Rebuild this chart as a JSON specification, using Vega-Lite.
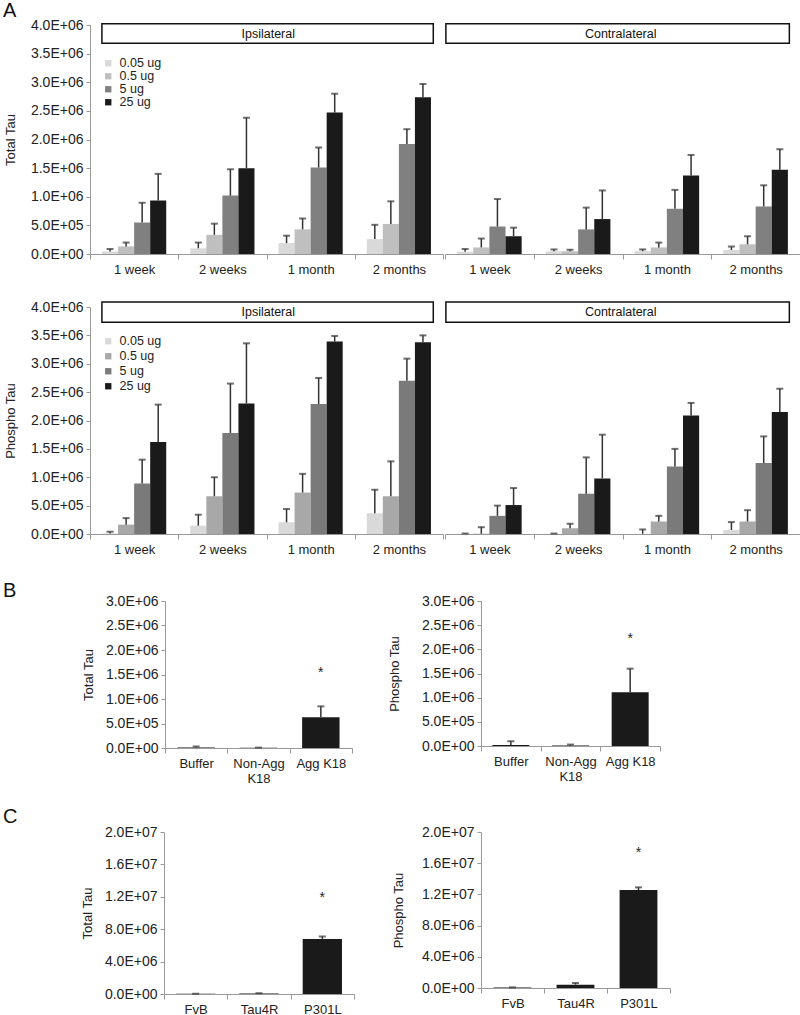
{
  "$schema": "https://vega.github.io/schema/vega-lite/v6.json",
  "background": "white",
  "padding": {"left": 3, "top": 1, "right": 0, "bottom": 0},
  "config": {
    "font": "Liberation Sans",
    "view": {"stroke": null},
    "axis": {"grid": false, "domainColor": "#999", "tickColor": "#999", "labelColor": "#222", "labelFontSize": 13, "titleFontSize": 13, "titleFontWeight": "normal", "titleColor": "#222", "tickSize": 4, "labelPadding": 3},
    "axisY": {"labelFontSize": 14, "labelOverlap": false},
    "title": {"fontSize": 20, "fontWeight": "normal", "anchor": "start", "offset": 0, "color": "#111"},
    "legend": {"labelColor": "#222"}
  },
  "datasets": {
    "totalTau": [
      {"side": "Ipsilateral", "time": "1 week", "dose": "0.05 ug", "mean": 45000, "upper": 87000},
      {"side": "Ipsilateral", "time": "1 week", "dose": "0.5 ug", "mean": 133000, "upper": 200000},
      {"side": "Ipsilateral", "time": "1 week", "dose": "5 ug", "mean": 550000, "upper": 895000},
      {"side": "Ipsilateral", "time": "1 week", "dose": "25 ug", "mean": 935000, "upper": 1400000},
      {"side": "Ipsilateral", "time": "2 weeks", "dose": "0.05 ug", "mean": 100000, "upper": 200000},
      {"side": "Ipsilateral", "time": "2 weeks", "dose": "0.5 ug", "mean": 335000, "upper": 530000},
      {"side": "Ipsilateral", "time": "2 weeks", "dose": "5 ug", "mean": 1020000, "upper": 1480000},
      {"side": "Ipsilateral", "time": "2 weeks", "dose": "25 ug", "mean": 1500000, "upper": 2380000},
      {"side": "Ipsilateral", "time": "1 month", "dose": "0.05 ug", "mean": 190000, "upper": 320000},
      {"side": "Ipsilateral", "time": "1 month", "dose": "0.5 ug", "mean": 430000, "upper": 620000},
      {"side": "Ipsilateral", "time": "1 month", "dose": "5 ug", "mean": 1510000, "upper": 1860000},
      {"side": "Ipsilateral", "time": "1 month", "dose": "25 ug", "mean": 2470000, "upper": 2800000},
      {"side": "Ipsilateral", "time": "2 months", "dose": "0.05 ug", "mean": 260000, "upper": 510000},
      {"side": "Ipsilateral", "time": "2 months", "dose": "0.5 ug", "mean": 525000, "upper": 920000},
      {"side": "Ipsilateral", "time": "2 months", "dose": "5 ug", "mean": 1920000, "upper": 2180000},
      {"side": "Ipsilateral", "time": "2 months", "dose": "25 ug", "mean": 2740000, "upper": 2970000},
      {"side": "Contralateral", "time": "1 week", "dose": "0.05 ug", "mean": 40000, "upper": 87000},
      {"side": "Contralateral", "time": "1 week", "dose": "0.5 ug", "mean": 115000, "upper": 270000},
      {"side": "Contralateral", "time": "1 week", "dose": "5 ug", "mean": 480000, "upper": 960000},
      {"side": "Contralateral", "time": "1 week", "dose": "25 ug", "mean": 310000, "upper": 460000},
      {"side": "Contralateral", "time": "2 weeks", "dose": "0.05 ug", "mean": 46000, "upper": 80000},
      {"side": "Contralateral", "time": "2 weeks", "dose": "0.5 ug", "mean": 46000, "upper": 75000},
      {"side": "Contralateral", "time": "2 weeks", "dose": "5 ug", "mean": 430000, "upper": 810000},
      {"side": "Contralateral", "time": "2 weeks", "dose": "25 ug", "mean": 610000, "upper": 1110000},
      {"side": "Contralateral", "time": "1 month", "dose": "0.05 ug", "mean": 50000, "upper": 80000},
      {"side": "Contralateral", "time": "1 month", "dose": "0.5 ug", "mean": 115000, "upper": 200000},
      {"side": "Contralateral", "time": "1 month", "dose": "5 ug", "mean": 790000, "upper": 1120000},
      {"side": "Contralateral", "time": "1 month", "dose": "25 ug", "mean": 1370000, "upper": 1730000},
      {"side": "Contralateral", "time": "2 months", "dose": "0.05 ug", "mean": 70000, "upper": 130000},
      {"side": "Contralateral", "time": "2 months", "dose": "0.5 ug", "mean": 170000, "upper": 310000},
      {"side": "Contralateral", "time": "2 months", "dose": "5 ug", "mean": 830000, "upper": 1200000},
      {"side": "Contralateral", "time": "2 months", "dose": "25 ug", "mean": 1470000, "upper": 1830000}
    ],
    "phosphoTau": [
      {"side": "Ipsilateral", "time": "1 week", "dose": "0.05 ug", "mean": 10000, "upper": 40000},
      {"side": "Ipsilateral", "time": "1 week", "dose": "0.5 ug", "mean": 165000, "upper": 280000},
      {"side": "Ipsilateral", "time": "1 week", "dose": "5 ug", "mean": 890000, "upper": 1310000},
      {"side": "Ipsilateral", "time": "1 week", "dose": "25 ug", "mean": 1620000, "upper": 2280000},
      {"side": "Ipsilateral", "time": "2 weeks", "dose": "0.05 ug", "mean": 147000, "upper": 340000},
      {"side": "Ipsilateral", "time": "2 weeks", "dose": "0.5 ug", "mean": 665000, "upper": 1000000},
      {"side": "Ipsilateral", "time": "2 weeks", "dose": "5 ug", "mean": 1780000, "upper": 2650000},
      {"side": "Ipsilateral", "time": "2 weeks", "dose": "25 ug", "mean": 2300000, "upper": 3360000},
      {"side": "Ipsilateral", "time": "1 month", "dose": "0.05 ug", "mean": 206000, "upper": 440000},
      {"side": "Ipsilateral", "time": "1 month", "dose": "0.5 ug", "mean": 730000, "upper": 1060000},
      {"side": "Ipsilateral", "time": "1 month", "dose": "5 ug", "mean": 2290000, "upper": 2750000},
      {"side": "Ipsilateral", "time": "1 month", "dose": "25 ug", "mean": 3390000, "upper": 3490000},
      {"side": "Ipsilateral", "time": "2 months", "dose": "0.05 ug", "mean": 365000, "upper": 780000},
      {"side": "Ipsilateral", "time": "2 months", "dose": "0.5 ug", "mean": 665000, "upper": 1280000},
      {"side": "Ipsilateral", "time": "2 months", "dose": "5 ug", "mean": 2700000, "upper": 3090000},
      {"side": "Ipsilateral", "time": "2 months", "dose": "25 ug", "mean": 3380000, "upper": 3500000},
      {"side": "Contralateral", "time": "1 week", "dose": "0.05 ug", "mean": 5000, "upper": 8000},
      {"side": "Contralateral", "time": "1 week", "dose": "0.5 ug", "mean": 5000, "upper": 120000},
      {"side": "Contralateral", "time": "1 week", "dose": "5 ug", "mean": 320000, "upper": 500000},
      {"side": "Contralateral", "time": "1 week", "dose": "25 ug", "mean": 510000, "upper": 810000},
      {"side": "Contralateral", "time": "2 weeks", "dose": "0.05 ug", "mean": 6000, "upper": 8000},
      {"side": "Contralateral", "time": "2 weeks", "dose": "0.5 ug", "mean": 100000, "upper": 180000},
      {"side": "Contralateral", "time": "2 weeks", "dose": "5 ug", "mean": 710000, "upper": 1350000},
      {"side": "Contralateral", "time": "2 weeks", "dose": "25 ug", "mean": 980000, "upper": 1750000},
      {"side": "Contralateral", "time": "1 month", "dose": "0.05 ug", "mean": 3000, "upper": 80000},
      {"side": "Contralateral", "time": "1 month", "dose": "0.5 ug", "mean": 220000, "upper": 320000},
      {"side": "Contralateral", "time": "1 month", "dose": "5 ug", "mean": 1190000, "upper": 1500000},
      {"side": "Contralateral", "time": "1 month", "dose": "25 ug", "mean": 2090000, "upper": 2310000},
      {"side": "Contralateral", "time": "2 months", "dose": "0.05 ug", "mean": 70000, "upper": 210000},
      {"side": "Contralateral", "time": "2 months", "dose": "0.5 ug", "mean": 220000, "upper": 420000},
      {"side": "Contralateral", "time": "2 months", "dose": "5 ug", "mean": 1250000, "upper": 1720000},
      {"side": "Contralateral", "time": "2 months", "dose": "25 ug", "mean": 2150000, "upper": 2560000}
    ],
    "k18": [
      {"measure": "Total Tau", "group": "Buffer", "mean": 10000, "upper": 30000},
      {"measure": "Total Tau", "group": "Non-Agg K18", "mean": 5000, "upper": 8000},
      {"measure": "Total Tau", "group": "Agg K18", "mean": 630000, "upper": 850000, "star": 1540000},
      {"measure": "Phospho Tau", "group": "Buffer", "mean": 20000, "upper": 100000},
      {"measure": "Phospho Tau", "group": "Non-Agg K18", "mean": 8000, "upper": 30000},
      {"measure": "Phospho Tau", "group": "Agg K18", "mean": 1110000, "upper": 1600000, "star": 2220000}
    ],
    "mice": [
      {"measure": "Total Tau", "group": "FvB", "mean": 20000, "upper": 40000},
      {"measure": "Total Tau", "group": "Tau4R", "mean": 50000, "upper": 100000},
      {"measure": "Total Tau", "group": "P301L", "mean": 6800000, "upper": 7100000, "star": 11800000},
      {"measure": "Phospho Tau", "group": "FvB", "mean": 50000, "upper": 80000},
      {"measure": "Phospho Tau", "group": "Tau4R", "mean": 430000, "upper": 640000},
      {"measure": "Phospho Tau", "group": "P301L", "mean": 12550000, "upper": 12900000, "star": 17300000}
    ]
  },
  "spacing": 25,
  "vconcat": [
    {
      "spacing": 24,
      "vconcat": [
        {
          "title": {"text": "A", "offset": -3},
          "spacing": 0,
          "resolve": {"scale": {"x": "independent", "y": "independent", "color": "independent", "xOffset": "independent"}, "legend": {"color": "independent"}},
          "hconcat": [
            {"width": 1, "height": 10, "data": {"values": []}, "mark": "point", "encoding": {}},
            {
              "width": 353, "height": 229,
              "layer": [
                {
                  "data": {"name": "totalTau"},
                  "transform": [{"filter": "datum.side == 'Ipsilateral'"}],
                  "mark": {"type": "bar"},
                  "encoding": {
                    "x": {"field": "time", "type": "nominal", "scale": {"domain": ["1 week", "2 weeks", "1 month", "2 months"], "paddingInner": 0, "paddingOuter": 0}, "axis": {"title": null, "labelAngle": 0, "tickBand": "extent", "tickSize": 5, "labelPadding": 4}},
                    "xOffset": {"field": "dose", "type": "nominal", "scale": {"domain": ["0.05 ug", "0.5 ug", "5 ug", "25 ug"], "paddingInner": 0, "paddingOuter": 0.75}},
                    "y": {"field": "mean", "type": "quantitative", "scale": {"domain": [0, 4000000]}, "axis": {"title": "Total Tau", "values": [0, 500000, 1000000, 1500000, 2000000, 2500000, 3000000, 3500000, 4000000], "labelExpr": "replace(format(datum.value, '.1e'), 'e+', 'E+0')", "titlePadding": 12.5}},
                    "color": {"field": "dose", "type": "nominal", "scale": {"domain": ["0.05 ug", "0.5 ug", "5 ug", "25 ug"], "range": ["#d9d9d9", "#bfbfbf", "#808080", "#1a1a1a"]}, "legend": {"title": null, "orient": "none", "legendX": 12, "legendY": 32, "symbolType": "square", "symbolSize": 40, "symbolStrokeWidth": 0, "labelFontSize": 12.5, "rowPadding": 0, "padding": 0, "labelOffset": 5}}
                  }
                },
                {
                  "data": {"name": "totalTau"},
                  "transform": [{"filter": "datum.side == 'Ipsilateral'"}],
                  "mark": {"type": "rule", "color": "#333", "strokeWidth": 1.5},
                  "encoding": {
                    "x": {"field": "time", "type": "nominal"},
                    "xOffset": {"field": "dose", "type": "nominal"},
                    "y": {"field": "mean", "type": "quantitative", "axis": {"title": "Total Tau", "values": [0, 500000, 1000000, 1500000, 2000000, 2500000, 3000000, 3500000, 4000000], "labelExpr": "replace(format(datum.value, '.1e'), 'e+', 'E+0')", "titlePadding": 12.5}},
                    "y2": {"field": "upper"}
                  }
                },
                {
                  "data": {"name": "totalTau"},
                  "transform": [{"filter": "datum.side == 'Ipsilateral'"}],
                  "mark": {"type": "tick", "color": "#333", "thickness": 2, "size": 7},
                  "encoding": {
                    "x": {"field": "time", "type": "nominal"},
                    "xOffset": {"field": "dose", "type": "nominal"},
                    "y": {"field": "upper", "type": "quantitative", "axis": {"title": "Total Tau", "values": [0, 500000, 1000000, 1500000, 2000000, 2500000, 3000000, 3500000, 4000000], "labelExpr": "replace(format(datum.value, '.1e'), 'e+', 'E+0')", "titlePadding": 12.5}}
                  }
                },
                {
                  "data": {"values": [{"side": "Ipsilateral"}]},
                  "mark": {"type": "rect", "fill": "white", "stroke": "#111", "strokeWidth": 1.5},
                  "encoding": {
                    "x": {"datum": "1 week", "bandPosition": 0.135},
                    "x2": {"datum": "2 months", "bandPosition": 0.89},
                    "y": {"datum": 3680000, "type": "quantitative", "axis": {"title": "Total Tau", "values": [0, 500000, 1000000, 1500000, 2000000, 2500000, 3000000, 3500000, 4000000], "labelExpr": "replace(format(datum.value, '.1e'), 'e+', 'E+0')", "titlePadding": 12.5}},
                    "y2": {"datum": 4020000}
                  }
                },
                {
                  "data": {"values": [{"side": "Ipsilateral"}]},
                  "mark": {"type": "text", "fontSize": 12.5, "color": "#111"},
                  "encoding": {
                    "x": {"datum": "1 month", "bandPosition": 0.02},
                    "y": {"datum": 3850000, "type": "quantitative", "axis": {"title": "Total Tau", "values": [0, 500000, 1000000, 1500000, 2000000, 2500000, 3000000, 3500000, 4000000], "labelExpr": "replace(format(datum.value, '.1e'), 'e+', 'E+0')", "titlePadding": 12.5}},
                    "text": {"field": "side"}
                  }
                }
              ]
            },
            {
              "width": 355, "height": 229,
              "layer": [
                {
                  "data": {"name": "totalTau"},
                  "transform": [{"filter": "datum.side == 'Contralateral'"}],
                  "mark": {"type": "bar"},
                  "encoding": {
                    "x": {"field": "time", "type": "nominal", "scale": {"domain": ["1 week", "2 weeks", "1 month", "2 months"], "paddingInner": 0, "paddingOuter": 0}, "axis": {"title": null, "labelAngle": 0, "tickBand": "extent", "tickSize": 5, "labelPadding": 4}},
                    "xOffset": {"field": "dose", "type": "nominal", "scale": {"domain": ["0.05 ug", "0.5 ug", "5 ug", "25 ug"], "paddingInner": 0, "paddingOuter": 0.75}},
                    "y": {"field": "mean", "type": "quantitative", "scale": {"domain": [0, 4000000]}, "axis": null},
                    "color": {"field": "dose", "type": "nominal", "scale": {"domain": ["0.05 ug", "0.5 ug", "5 ug", "25 ug"], "range": ["#d9d9d9", "#bfbfbf", "#808080", "#1a1a1a"]}, "legend": null}
                  }
                },
                {
                  "data": {"name": "totalTau"},
                  "transform": [{"filter": "datum.side == 'Contralateral'"}],
                  "mark": {"type": "rule", "color": "#333", "strokeWidth": 1.5},
                  "encoding": {
                    "x": {"field": "time", "type": "nominal"},
                    "xOffset": {"field": "dose", "type": "nominal"},
                    "y": {"field": "mean", "type": "quantitative", "axis": null},
                    "y2": {"field": "upper"}
                  }
                },
                {
                  "data": {"name": "totalTau"},
                  "transform": [{"filter": "datum.side == 'Contralateral'"}],
                  "mark": {"type": "tick", "color": "#333", "thickness": 2, "size": 7},
                  "encoding": {
                    "x": {"field": "time", "type": "nominal"},
                    "xOffset": {"field": "dose", "type": "nominal"},
                    "y": {"field": "upper", "type": "quantitative", "axis": null}
                  }
                },
                {
                  "data": {"values": [{"side": "Contralateral"}]},
                  "mark": {"type": "rect", "fill": "white", "stroke": "#111", "strokeWidth": 1.5},
                  "encoding": {
                    "x": {"datum": "1 week", "bandPosition": 0.01},
                    "x2": {"datum": "2 months", "bandPosition": 0.88},
                    "y": {"datum": 3680000, "type": "quantitative", "axis": null},
                    "y2": {"datum": 4020000}
                  }
                },
                {
                  "data": {"values": [{"side": "Contralateral"}]},
                  "mark": {"type": "text", "fontSize": 12.5, "color": "#111"},
                  "encoding": {
                    "x": {"datum": "1 month", "bandPosition": -0.02},
                    "y": {"datum": 3850000, "type": "quantitative", "axis": null},
                    "text": {"field": "side"}
                  }
                }
              ]
            }
          ]
        },
        {
          "spacing": 0,
          "resolve": {"scale": {"x": "independent", "y": "independent", "color": "independent", "xOffset": "independent"}, "legend": {"color": "independent"}},
          "hconcat": [
            {"width": 1, "height": 10, "data": {"values": []}, "mark": "point", "encoding": {}},
            {
              "width": 353, "height": 227,
              "layer": [
                {
                  "data": {"name": "phosphoTau"},
                  "transform": [{"filter": "datum.side == 'Ipsilateral'"}],
                  "mark": {"type": "bar"},
                  "encoding": {
                    "x": {"field": "time", "type": "nominal", "scale": {"domain": ["1 week", "2 weeks", "1 month", "2 months"], "paddingInner": 0, "paddingOuter": 0}, "axis": {"title": null, "labelAngle": 0, "tickBand": "extent", "tickSize": 5, "labelPadding": 4}},
                    "xOffset": {"field": "dose", "type": "nominal", "scale": {"domain": ["0.05 ug", "0.5 ug", "5 ug", "25 ug"], "paddingInner": 0, "paddingOuter": 0.75}},
                    "y": {"field": "mean", "type": "quantitative", "scale": {"domain": [0, 4000000]}, "axis": {"title": "Phospho Tau", "values": [0, 500000, 1000000, 1500000, 2000000, 2500000, 3000000, 3500000, 4000000], "labelExpr": "replace(format(datum.value, '.1e'), 'e+', 'E+0')", "titlePadding": 12.5}},
                    "color": {"field": "dose", "type": "nominal", "scale": {"domain": ["0.05 ug", "0.5 ug", "5 ug", "25 ug"], "range": ["#d9d9d9", "#a8a8a8", "#7a7a7a", "#1a1a1a"]}, "legend": {"title": null, "orient": "none", "legendX": 12, "legendY": 28, "symbolType": "square", "symbolSize": 40, "symbolStrokeWidth": 0, "labelFontSize": 12.5, "rowPadding": 2, "padding": 0, "labelOffset": 5}}
                  }
                },
                {
                  "data": {"name": "phosphoTau"},
                  "transform": [{"filter": "datum.side == 'Ipsilateral'"}],
                  "mark": {"type": "rule", "color": "#333", "strokeWidth": 1.5},
                  "encoding": {
                    "x": {"field": "time", "type": "nominal"},
                    "xOffset": {"field": "dose", "type": "nominal"},
                    "y": {"field": "mean", "type": "quantitative", "axis": {"title": "Phospho Tau", "values": [0, 500000, 1000000, 1500000, 2000000, 2500000, 3000000, 3500000, 4000000], "labelExpr": "replace(format(datum.value, '.1e'), 'e+', 'E+0')", "titlePadding": 12.5}},
                    "y2": {"field": "upper"}
                  }
                },
                {
                  "data": {"name": "phosphoTau"},
                  "transform": [{"filter": "datum.side == 'Ipsilateral'"}],
                  "mark": {"type": "tick", "color": "#333", "thickness": 2, "size": 7},
                  "encoding": {
                    "x": {"field": "time", "type": "nominal"},
                    "xOffset": {"field": "dose", "type": "nominal"},
                    "y": {"field": "upper", "type": "quantitative", "axis": {"title": "Phospho Tau", "values": [0, 500000, 1000000, 1500000, 2000000, 2500000, 3000000, 3500000, 4000000], "labelExpr": "replace(format(datum.value, '.1e'), 'e+', 'E+0')", "titlePadding": 12.5}}
                  }
                },
                {
                  "data": {"values": [{"side": "Ipsilateral"}]},
                  "mark": {"type": "rect", "fill": "white", "stroke": "#111", "strokeWidth": 1.5},
                  "encoding": {
                    "x": {"datum": "1 week", "bandPosition": 0.135},
                    "x2": {"datum": "2 months", "bandPosition": 0.89},
                    "y": {"datum": 3730000, "type": "quantitative", "axis": {"title": "Phospho Tau", "values": [0, 500000, 1000000, 1500000, 2000000, 2500000, 3000000, 3500000, 4000000], "labelExpr": "replace(format(datum.value, '.1e'), 'e+', 'E+0')", "titlePadding": 12.5}},
                    "y2": {"datum": 4090000}
                  }
                },
                {
                  "data": {"values": [{"side": "Ipsilateral"}]},
                  "mark": {"type": "text", "fontSize": 12.5, "color": "#111"},
                  "encoding": {
                    "x": {"datum": "1 month", "bandPosition": 0.02},
                    "y": {"datum": 3910000, "type": "quantitative", "axis": {"title": "Phospho Tau", "values": [0, 500000, 1000000, 1500000, 2000000, 2500000, 3000000, 3500000, 4000000], "labelExpr": "replace(format(datum.value, '.1e'), 'e+', 'E+0')", "titlePadding": 12.5}},
                    "text": {"field": "side"}
                  }
                }
              ]
            },
            {
              "width": 355, "height": 227,
              "layer": [
                {
                  "data": {"name": "phosphoTau"},
                  "transform": [{"filter": "datum.side == 'Contralateral'"}],
                  "mark": {"type": "bar"},
                  "encoding": {
                    "x": {"field": "time", "type": "nominal", "scale": {"domain": ["1 week", "2 weeks", "1 month", "2 months"], "paddingInner": 0, "paddingOuter": 0}, "axis": {"title": null, "labelAngle": 0, "tickBand": "extent", "tickSize": 5, "labelPadding": 4}},
                    "xOffset": {"field": "dose", "type": "nominal", "scale": {"domain": ["0.05 ug", "0.5 ug", "5 ug", "25 ug"], "paddingInner": 0, "paddingOuter": 0.75}},
                    "y": {"field": "mean", "type": "quantitative", "scale": {"domain": [0, 4000000]}, "axis": null},
                    "color": {"field": "dose", "type": "nominal", "scale": {"domain": ["0.05 ug", "0.5 ug", "5 ug", "25 ug"], "range": ["#d9d9d9", "#a8a8a8", "#7a7a7a", "#1a1a1a"]}, "legend": null}
                  }
                },
                {
                  "data": {"name": "phosphoTau"},
                  "transform": [{"filter": "datum.side == 'Contralateral'"}],
                  "mark": {"type": "rule", "color": "#333", "strokeWidth": 1.5},
                  "encoding": {
                    "x": {"field": "time", "type": "nominal"},
                    "xOffset": {"field": "dose", "type": "nominal"},
                    "y": {"field": "mean", "type": "quantitative", "axis": null},
                    "y2": {"field": "upper"}
                  }
                },
                {
                  "data": {"name": "phosphoTau"},
                  "transform": [{"filter": "datum.side == 'Contralateral'"}],
                  "mark": {"type": "tick", "color": "#333", "thickness": 2, "size": 7},
                  "encoding": {
                    "x": {"field": "time", "type": "nominal"},
                    "xOffset": {"field": "dose", "type": "nominal"},
                    "y": {"field": "upper", "type": "quantitative", "axis": null}
                  }
                },
                {
                  "data": {"values": [{"side": "Contralateral"}]},
                  "mark": {"type": "rect", "fill": "white", "stroke": "#111", "strokeWidth": 1.5},
                  "encoding": {
                    "x": {"datum": "1 week", "bandPosition": 0.01},
                    "x2": {"datum": "2 months", "bandPosition": 0.88},
                    "y": {"datum": 3730000, "type": "quantitative", "axis": null},
                    "y2": {"datum": 4090000}
                  }
                },
                {
                  "data": {"values": [{"side": "Contralateral"}]},
                  "mark": {"type": "text", "fontSize": 12.5, "color": "#111"},
                  "encoding": {
                    "x": {"datum": "1 month", "bandPosition": -0.02},
                    "y": {"datum": 3910000, "type": "quantitative", "axis": null},
                    "text": {"field": "side"}
                  }
                }
              ]
            }
          ]
        }
      ]
    },
    {
      "spacing": 22,
      "vconcat": [
        {
          "title": {"text": "B", "offset": -7},
          "spacing": 35,
          "resolve": {"scale": {"x": "independent", "y": "independent"}},
          "hconcat": [
            {"width": 44, "height": 10, "data": {"values": []}, "mark": "point", "encoding": {}},
            {
              "width": 187, "height": 147,
              "data": {"name": "k18"},
              "transform": [{"filter": "datum.measure == 'Total Tau'"}],
              "encoding": {
                "x": {"field": "group", "type": "nominal", "scale": {"domain": ["Buffer", "Non-Agg K18", "Agg K18"], "padding": 0}, "axis": {"title": null, "labelAngle": 0, "tickBand": "extent", "tickSize": 5, "labelPadding": 4, "labelExpr": "datum.label == 'Non-Agg K18' ? ['Non-Agg', 'K18'] : datum.label"}}
              },
              "layer": [
                {"mark": {"type": "bar", "color": "#1a1a1a", "width": {"band": 0.6}}, "encoding": {"y": {"field": "mean", "type": "quantitative", "scale": {"domain": [0, 3000000]}, "axis": {"title": "Total Tau", "values": [0, 500000, 1000000, 1500000, 2000000, 2500000, 3000000], "labelExpr": "replace(format(datum.value, '.1e'), 'e+', 'E+0')", "titlePadding": 9.5}}}},
                {"mark": {"type": "rule", "color": "#333", "strokeWidth": 1.5}, "encoding": {"y": {"field": "mean", "type": "quantitative", "axis": {"title": "Total Tau", "values": [0, 500000, 1000000, 1500000, 2000000, 2500000, 3000000], "labelExpr": "replace(format(datum.value, '.1e'), 'e+', 'E+0')", "titlePadding": 9.5}}, "y2": {"field": "upper"}}},
                {"mark": {"type": "tick", "color": "#333", "thickness": 2, "size": 7}, "encoding": {"y": {"field": "upper", "type": "quantitative", "axis": {"title": "Total Tau", "values": [0, 500000, 1000000, 1500000, 2000000, 2500000, 3000000], "labelExpr": "replace(format(datum.value, '.1e'), 'e+', 'E+0')", "titlePadding": 9.5}}}},
                {"mark": {"type": "text", "text": "*", "fontSize": 14, "color": "#222"}, "encoding": {"y": {"field": "star", "type": "quantitative", "axis": {"title": "Total Tau", "values": [0, 500000, 1000000, 1500000, 2000000, 2500000, 3000000], "labelExpr": "replace(format(datum.value, '.1e'), 'e+', 'E+0')", "titlePadding": 9.5}}}}
              ]
            },
            {
              "width": 179, "height": 145,
              "data": {"name": "k18"},
              "transform": [{"filter": "datum.measure == 'Phospho Tau'"}],
              "encoding": {
                "x": {"field": "group", "type": "nominal", "scale": {"domain": ["Buffer", "Non-Agg K18", "Agg K18"], "padding": 0}, "axis": {"title": null, "labelAngle": 0, "tickBand": "extent", "tickSize": 5, "labelPadding": 4, "labelExpr": "datum.label == 'Non-Agg K18' ? ['Non-Agg', 'K18'] : datum.label"}}
              },
              "layer": [
                {"mark": {"type": "bar", "color": "#1a1a1a", "width": {"band": 0.62}}, "encoding": {"y": {"field": "mean", "type": "quantitative", "scale": {"domain": [0, 3000000]}, "axis": {"title": "Phospho Tau", "values": [0, 500000, 1000000, 1500000, 2000000, 2500000, 3000000], "labelExpr": "replace(format(datum.value, '.1e'), 'e+', 'E+0')", "titlePadding": 19.5}}}},
                {"mark": {"type": "rule", "color": "#333", "strokeWidth": 1.5}, "encoding": {"y": {"field": "mean", "type": "quantitative", "axis": {"title": "Phospho Tau", "values": [0, 500000, 1000000, 1500000, 2000000, 2500000, 3000000], "labelExpr": "replace(format(datum.value, '.1e'), 'e+', 'E+0')", "titlePadding": 19.5}}, "y2": {"field": "upper"}}},
                {"mark": {"type": "tick", "color": "#333", "thickness": 2, "size": 7}, "encoding": {"y": {"field": "upper", "type": "quantitative", "axis": {"title": "Phospho Tau", "values": [0, 500000, 1000000, 1500000, 2000000, 2500000, 3000000], "labelExpr": "replace(format(datum.value, '.1e'), 'e+', 'E+0')", "titlePadding": 19.5}}}},
                {"mark": {"type": "text", "text": "*", "fontSize": 14, "color": "#222"}, "encoding": {"y": {"field": "star", "type": "quantitative", "axis": {"title": "Phospho Tau", "values": [0, 500000, 1000000, 1500000, 2000000, 2500000, 3000000], "labelExpr": "replace(format(datum.value, '.1e'), 'e+', 'E+0')", "titlePadding": 19.5}}}}
              ]
            }
          ]
        },
        {
          "title": {"text": "C", "offset": -2},
          "spacing": 37,
          "resolve": {"scale": {"x": "independent", "y": "independent"}},
          "hconcat": [
            {"width": 41, "height": 10, "data": {"values": []}, "mark": "point", "encoding": {}},
            {
              "width": 190, "height": 162,
              "data": {"name": "mice"},
              "transform": [{"filter": "datum.measure == 'Total Tau'"}],
              "encoding": {
                "x": {"field": "group", "type": "nominal", "scale": {"domain": ["FvB", "Tau4R", "P301L"], "padding": 0}, "axis": {"title": null, "labelAngle": 0, "tickBand": "extent", "tickSize": 5, "labelPadding": 4}}
              },
              "layer": [
                {"mark": {"type": "bar", "color": "#1a1a1a", "width": {"band": 0.62}}, "encoding": {"y": {"field": "mean", "type": "quantitative", "scale": {"domain": [0, 20000000]}, "axis": {"title": "Total Tau", "values": [0, 4000000, 8000000, 12000000, 16000000, 20000000], "labelExpr": "replace(format(datum.value, '.1e'), 'e+', 'E+0')", "titlePadding": 9.5}}}},
                {"mark": {"type": "rule", "color": "#333", "strokeWidth": 1.5}, "encoding": {"y": {"field": "mean", "type": "quantitative", "axis": {"title": "Total Tau", "values": [0, 4000000, 8000000, 12000000, 16000000, 20000000], "labelExpr": "replace(format(datum.value, '.1e'), 'e+', 'E+0')", "titlePadding": 9.5}}, "y2": {"field": "upper"}}},
                {"mark": {"type": "tick", "color": "#333", "thickness": 2, "size": 7}, "encoding": {"y": {"field": "upper", "type": "quantitative", "axis": {"title": "Total Tau", "values": [0, 4000000, 8000000, 12000000, 16000000, 20000000], "labelExpr": "replace(format(datum.value, '.1e'), 'e+', 'E+0')", "titlePadding": 9.5}}}},
                {"mark": {"type": "text", "text": "*", "fontSize": 14, "color": "#222"}, "encoding": {"y": {"field": "star", "type": "quantitative", "axis": {"title": "Total Tau", "values": [0, 4000000, 8000000, 12000000, 16000000, 20000000], "labelExpr": "replace(format(datum.value, '.1e'), 'e+', 'E+0')", "titlePadding": 9.5}}}}
              ]
            },
            {
              "width": 189, "height": 156,
              "data": {"name": "mice"},
              "transform": [{"filter": "datum.measure == 'Phospho Tau'"}],
              "encoding": {
                "x": {"field": "group", "type": "nominal", "scale": {"domain": ["FvB", "Tau4R", "P301L"], "padding": 0}, "axis": {"title": null, "labelAngle": 0, "tickBand": "extent", "tickSize": 5, "labelPadding": 4}}
              },
              "layer": [
                {"mark": {"type": "bar", "color": "#1a1a1a", "width": {"band": 0.6}}, "encoding": {"y": {"field": "mean", "type": "quantitative", "scale": {"domain": [0, 20000000]}, "axis": {"title": "Phospho Tau", "values": [0, 4000000, 8000000, 12000000, 16000000, 20000000], "labelExpr": "replace(format(datum.value, '.1e'), 'e+', 'E+0')", "titlePadding": 15.5}}}},
                {"mark": {"type": "rule", "color": "#333", "strokeWidth": 1.5}, "encoding": {"y": {"field": "mean", "type": "quantitative", "axis": {"title": "Phospho Tau", "values": [0, 4000000, 8000000, 12000000, 16000000, 20000000], "labelExpr": "replace(format(datum.value, '.1e'), 'e+', 'E+0')", "titlePadding": 15.5}}, "y2": {"field": "upper"}}},
                {"mark": {"type": "tick", "color": "#333", "thickness": 2, "size": 7}, "encoding": {"y": {"field": "upper", "type": "quantitative", "axis": {"title": "Phospho Tau", "values": [0, 4000000, 8000000, 12000000, 16000000, 20000000], "labelExpr": "replace(format(datum.value, '.1e'), 'e+', 'E+0')", "titlePadding": 15.5}}}},
                {"mark": {"type": "text", "text": "*", "fontSize": 14, "color": "#222"}, "encoding": {"y": {"field": "star", "type": "quantitative", "axis": {"title": "Phospho Tau", "values": [0, 4000000, 8000000, 12000000, 16000000, 20000000], "labelExpr": "replace(format(datum.value, '.1e'), 'e+', 'E+0')", "titlePadding": 15.5}}}}
              ]
            }
          ]
        }
      ]
    }
  ]
}
